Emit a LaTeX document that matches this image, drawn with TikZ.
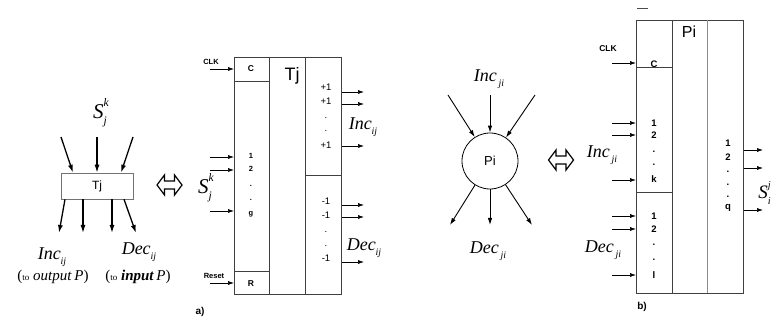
\documentclass[tikz,border=0pt]{standalone}
\usepackage{fontspec}
\setmainfont{Liberation Serif}
\setsansfont{Liberation Sans}
\usetikzlibrary{arrows.meta,positioning}

\makeatletter
\newcommand{\smallsz}{\fontsize{\the\dimexpr0.55\dimexpr\f@size pt\relax\relax}{1em}\selectfont}
\makeatother
% symbol with subscript #2 and superscript #3
\newcommand{\sgn}[3]{\textit{#1}\makebox[0pt][l]{\raisebox{0.55em}{\smallsz\textit{#3}}}\raisebox{-0.3em}{\smallsz\textit{#2}}}
% hollow double arrow
\newcommand{\eqarrow}[1]{%
  \draw[line width=1.2pt, line join=miter] (#1) ++(-12.5,0) -- ++(7.5,-10) -- ++(0,6) -- ++(10,0)
    -- ++(0,-6) -- ++(7.5,10) -- ++(-7.5,10) -- ++(0,-6) -- ++(-10,0) -- ++(0,6) -- cycle;}

\begin{document}
\begin{tikzpicture}[x=1pt, y=-1pt, >={Latex[length=6pt, width=4pt]},
    box/.style={draw=black!75, line width=0.6pt},
    pin/.style={font=\sffamily\bfseries\fontsize{7.5}{8}\selectfont, inner sep=0pt},
    bpin/.style={font=\sffamily\bfseries\fontsize{9.5}{10}\selectfont, inner sep=0pt},
    cnt/.style={font=\sffamily\fontsize{9.5}{10}\selectfont, inner sep=0pt},
    sig/.style={font=\fontsize{18}{18}\selectfont, inner sep=0pt},
    wire/.style={->, line width=0.6pt},
    fat/.style={->, line width=1.3pt, >={Latex[length=8pt, width=5pt]}},
    mid/.style={->, line width=0.9pt, >={Latex[length=7pt, width=4.5pt]}}]
  \useasboundingbox (0,0) rectangle (772,323);

  % a) token, short form
  \node[box, draw=black!55, minimum width=72, minimum height=26,
        font=\sffamily\fontsize{12}{12}\selectfont] (tjs) at (97,186) {Tj};
  \node[sig, font=\fontsize{21}{21}\selectfont] (sjk) at (100,113) {\sgn{S}{j}{k}};
  \coordinate (ti1) at (61,137);
  \coordinate (ti2) at (97,137);
  \coordinate (ti3) at (133,137);
  \draw[fat] (ti1) -- ([xshift=-24pt]tjs.north);
  \draw[fat] (ti2) -- (tjs.north);
  \draw[fat] (ti3) -- ([xshift=24pt]tjs.north);
  \coordinate (to1) at (59,233);
  \coordinate (to2) at (83,233);
  \coordinate (to3) at (112,233);
  \coordinate (to4) at (136,233);
  \draw[fat] ([xshift=-32pt]tjs.south) -- (to1);
  \draw[fat] ([xshift=-14pt]tjs.south) -- (to2);
  \draw[fat] ([xshift=15pt]tjs.south) -- (to3);
  \draw[fat] ([xshift=27pt]tjs.south) -- (to4);
  \node[sig] (incs) at (52,257) {\sgn{Inc}{ij}{}};
  \node[sig] (decs) at (139,252) {\sgn{Dec}{ij}{}};
  \node[sig, font=\fontsize{15}{15}\selectfont] (outp) at (53,277)
    {({\fontsize{9}{9}\selectfont to}\ \textit{output}\,\textit{P})};
  \node[sig, font=\fontsize{15}{15}\selectfont] (inp) at (138,277)
    {({\fontsize{9}{9}\selectfont to}\ \textbf{\textit{input}}\,\textit{P})};
  \eqarrow{169.5,185}

  % a) token, block form
  \node[box, minimum width=107, minimum height=237, anchor=north west] (tjb) at (234,57) {};
  \draw[box] (269,57) -- (269,294) (305,57) -- (305,294);
  \draw[box] (234,81) -- (269,81) (234,271) -- (269,271) (305,175) -- (341,175);
  \node[font=\sffamily\fontsize{18}{18}\selectfont, inner sep=0pt] (tjl) at (292,76) {Tj};
  \node[pin] (clka) at (211,62) {CLK};
  \node[pin] (rsta) at (214,276) {Reset};
  \node[pin, font=\sffamily\bfseries\fontsize{8.5}{9}\selectfont] (ca) at (251,69) {C};
  \node[pin, font=\sffamily\bfseries\fontsize{8.5}{9}\selectfont] (ra) at (251,284) {R};
  \coordinate (wclk) at (210,69);
  \coordinate (wrst) at (210,283);
  \draw[wire] (wclk) -- (wclk -| tjb.west);
  \draw[wire] (wrst) -- (wrst -| tjb.west);
  \foreach \y/\t in {156/1, 169/2, 186/., 200/., 214/g}
    \node[pin] at (251,\y) {\t};
  \foreach \y [count=\i] in {157, 170, 211} {
    \coordinate (ws\i) at (210,\y);
    \draw[wire] (ws\i) -- (ws\i -| tjb.west);
  }
  \node[sig, font=\fontsize{21}{21}\selectfont] (sjb) at (205,188) {\sgn{S}{j}{k}};
  \foreach \y/\t in {87/+1, 101/+1, 118/., 131/., 145/+1, 201/-1, 215/-1, 232/., 246/., 258/-1}
    \node[cnt] at (326,\y) {\t};
  \foreach \y [count=\i] in {92, 104, 146, 205, 217, 262} {
    \coordinate (wo\i) at (364,\y);
    \draw[wire] (wo\i -| tjb.east) -- (wo\i);
  }
  \node[sig] (inca) at (363,127) {\sgn{Inc}{ij}{}};
  \node[sig] (deca) at (364,248) {\sgn{Dec}{ij}{}};
  \node[font=\sffamily\bfseries\fontsize{10}{10}\selectfont] (la) at (200,312) {a)};

  % b) place, short form
  \node[draw, circle, minimum size=56, line width=0.8pt,
        font=\sffamily\fontsize{13}{13}\selectfont] (pis) at (490,161) {Pi};
  \node[sig] (incp) at (489,79) {\sgn{Inc}{\,ji}{}};
  \node[sig] (decp) at (488,251) {\sgn{Dec}{\,ji}{}};
  \coordinate (pi1) at (448,95);
  \coordinate (pi2) at (490,95);
  \coordinate (pi3) at (535,95);
  \draw[mid] (pi1) -- (pis);
  \draw[mid] (pi2) -- (pis);
  \draw[mid] (pi3) -- (pis);
  \coordinate (po1) at (450,225);
  \coordinate (po2) at (490,225);
  \coordinate (po3) at (532,225);
  \draw[mid] (pis) -- (po1);
  \draw[mid] (pis) -- (po2);
  \draw[mid] (pis) -- (po3);
  \eqarrow{561,160}

  % b) place, block form
  \draw[black!70, line width=0.6pt] (637,8) -- (648,8);
  \node[box, minimum width=107, minimum height=273, anchor=north west] (pib) at (636,20) {};
  \draw[box] (672,20) -- (672,293);
  \draw[box, draw=black!45, line width=0.9pt] (707,20) -- (707,293);
  \draw[box] (636,67) -- (672,67) (636,192) -- (672,192);
  \node[font=\sffamily\fontsize{16}{16}\selectfont, inner sep=0pt] (pil) at (689,32) {Pi};
  \node[bpin, font=\sffamily\bfseries\fontsize{8.5}{9}\selectfont] (clkb) at (608,49) {CLK};
  \node[bpin] (cb) at (654,64) {C};
  \coordinate (vclk) at (612,63);
  \draw[wire] (vclk) -- (vclk -| pib.west);
  \foreach \y/\t in {123/1, 135/2, 152/., 165/., 179/k, 216/1, 229/2, 245/., 260/., 275/l}
    \node[bpin] at (654,\y) {\t};
  \foreach \y [count=\i] in {123, 135, 180, 216, 229, 275} {
    \coordinate (vi\i) at (612,\y);
    \draw[wire] (vi\i) -- (vi\i -| pib.west);
  }
  \foreach \y/\t in {143/1, 157/2, 172/., 185/., 197/., 208/q}
    \node[bpin] at (728,\y) {\t};
  \foreach \y [count=\i] in {150, 168, 210} {
    \coordinate (vo\i) at (763,\y);
    \draw[wire] (vo\i -| pib.east) -- (vo\i);
  }
  \node[sig] (incb) at (602,155) {\sgn{Inc}{\,ji}{}};
  \node[sig] (decb) at (603,250) {\sgn{Dec}{\,ji}{}};
  \node[sig, font=\fontsize{19}{19}\selectfont, anchor=east] (sib) at (771,193) {\sgn{S}{i}{j}\hspace{1pt}};
  \node[font=\sffamily\bfseries\fontsize{10}{10}\selectfont] (lb) at (642,307) {b)};
\end{tikzpicture}
\end{document}
